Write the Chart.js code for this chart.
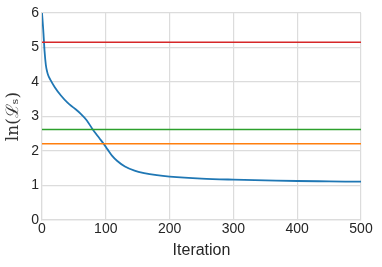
<!DOCTYPE html>
<html>
<head>
<meta charset="utf-8">
<script src="https://cdn.jsdelivr.net/npm/chart.js@4"></script>
<style>
  html, body { margin: 0; padding: 0; background: #fff; }
  #wrap { width: 382px; height: 267px; }
</style>
</head>
<body>
<div id="wrap"><canvas id="myChart"></canvas></div>
<script>
// values
const iters = [0, 2, 4, 6, 8, 10, 13, 20, 30, 40, 50, 60, 70, 79, 90, 97, 103, 110, 118, 130, 145, 160, 180, 200, 250, 300, 350, 400, 450, 500];
const loss  = [6.0, 5.5, 4.9, 4.5, 4.3, 4.18, 4.07, 3.85, 3.6, 3.4, 3.25, 3.09, 2.89, 2.64, 2.37, 2.2, 2.04, 1.86, 1.71, 1.55, 1.43, 1.36, 1.30, 1.26, 1.20, 1.17, 1.15, 1.13, 1.12, 1.11];
const xRange = [0, 500];
const refLevels = [5.15, 2.62, 2.21];
const refColors = ['#d62728', '#2ca02c', '#ff7f0e'];
const xTicks = [0, 100, 200, 300, 400, 500];
const yTicks = [0, 1, 2, 3, 4, 5, 6];

const gridColor = '#dcdcdc';

const datasets = refLevels.map(function (lvl, i) {
  return {
    data: xRange.map(function (x) { return {x: x, y: lvl}; }),
    borderColor: refColors[i],
    borderWidth: 1.5,
    pointRadius: 0
  };
});
datasets.push({
  data: iters.map(function (x, i) { return {x: x, y: loss[i]}; }),
  borderColor: '#1f77b4',
  borderWidth: 1.8,
  pointRadius: 0,
  cubicInterpolationMode: 'monotone'
});

const config = {
  type: 'line',
  data: { datasets },
  options: {
    responsive: true,
    maintainAspectRatio: false,
    animation: false,
    layout: { padding: { top: 13, right: 21, left: 0, bottom: 0 } },
    plugins: { legend: { display: false }, tooltip: { enabled: false } },
    scales: {
      x: {
        type: 'linear',
        min: 0, max: 500,
        afterBuildTicks: function (s) { s.ticks = xTicks.map(function (v) { return {value: v}; }); },
        afterFit: function (s) { s.height = 47; },
        ticks: { color: '#262626', font: { family: 'Liberation Sans', size: 14 }, padding: 1, maxRotation: 0 },
        grid: { color: gridColor, lineWidth: 1.2, tickLength: 0 },
        border: { color: gridColor, width: 1.2 },
        title: { display: true, text: 'Iteration', color: '#262626', font: { family: 'Liberation Sans', size: 16 }, padding: { top: 0, bottom: 7 } }
      },
      y: {
        min: 0, max: 6,
        afterBuildTicks: function (s) { s.ticks = yTicks.map(function (v) { return {value: v}; }); },
        afterFit: function (s) { s.width = 42; },
        ticks: { color: '#262626', font: { family: 'Liberation Sans', size: 14 }, padding: 3 },
        grid: { color: gridColor, lineWidth: 1.2, tickLength: 0 },
        border: { color: gridColor, width: 1.2 },
        title: { display: true, text: 'ln(ℒₛ)', color: '#333', font: { family: 'DejaVu Serif', size: 17 }, padding: { top: 3, bottom: 0 } }
      }
    }
  }
};

const myChart = new Chart(document.getElementById('myChart'), config);
</script>
</body>
</html>
